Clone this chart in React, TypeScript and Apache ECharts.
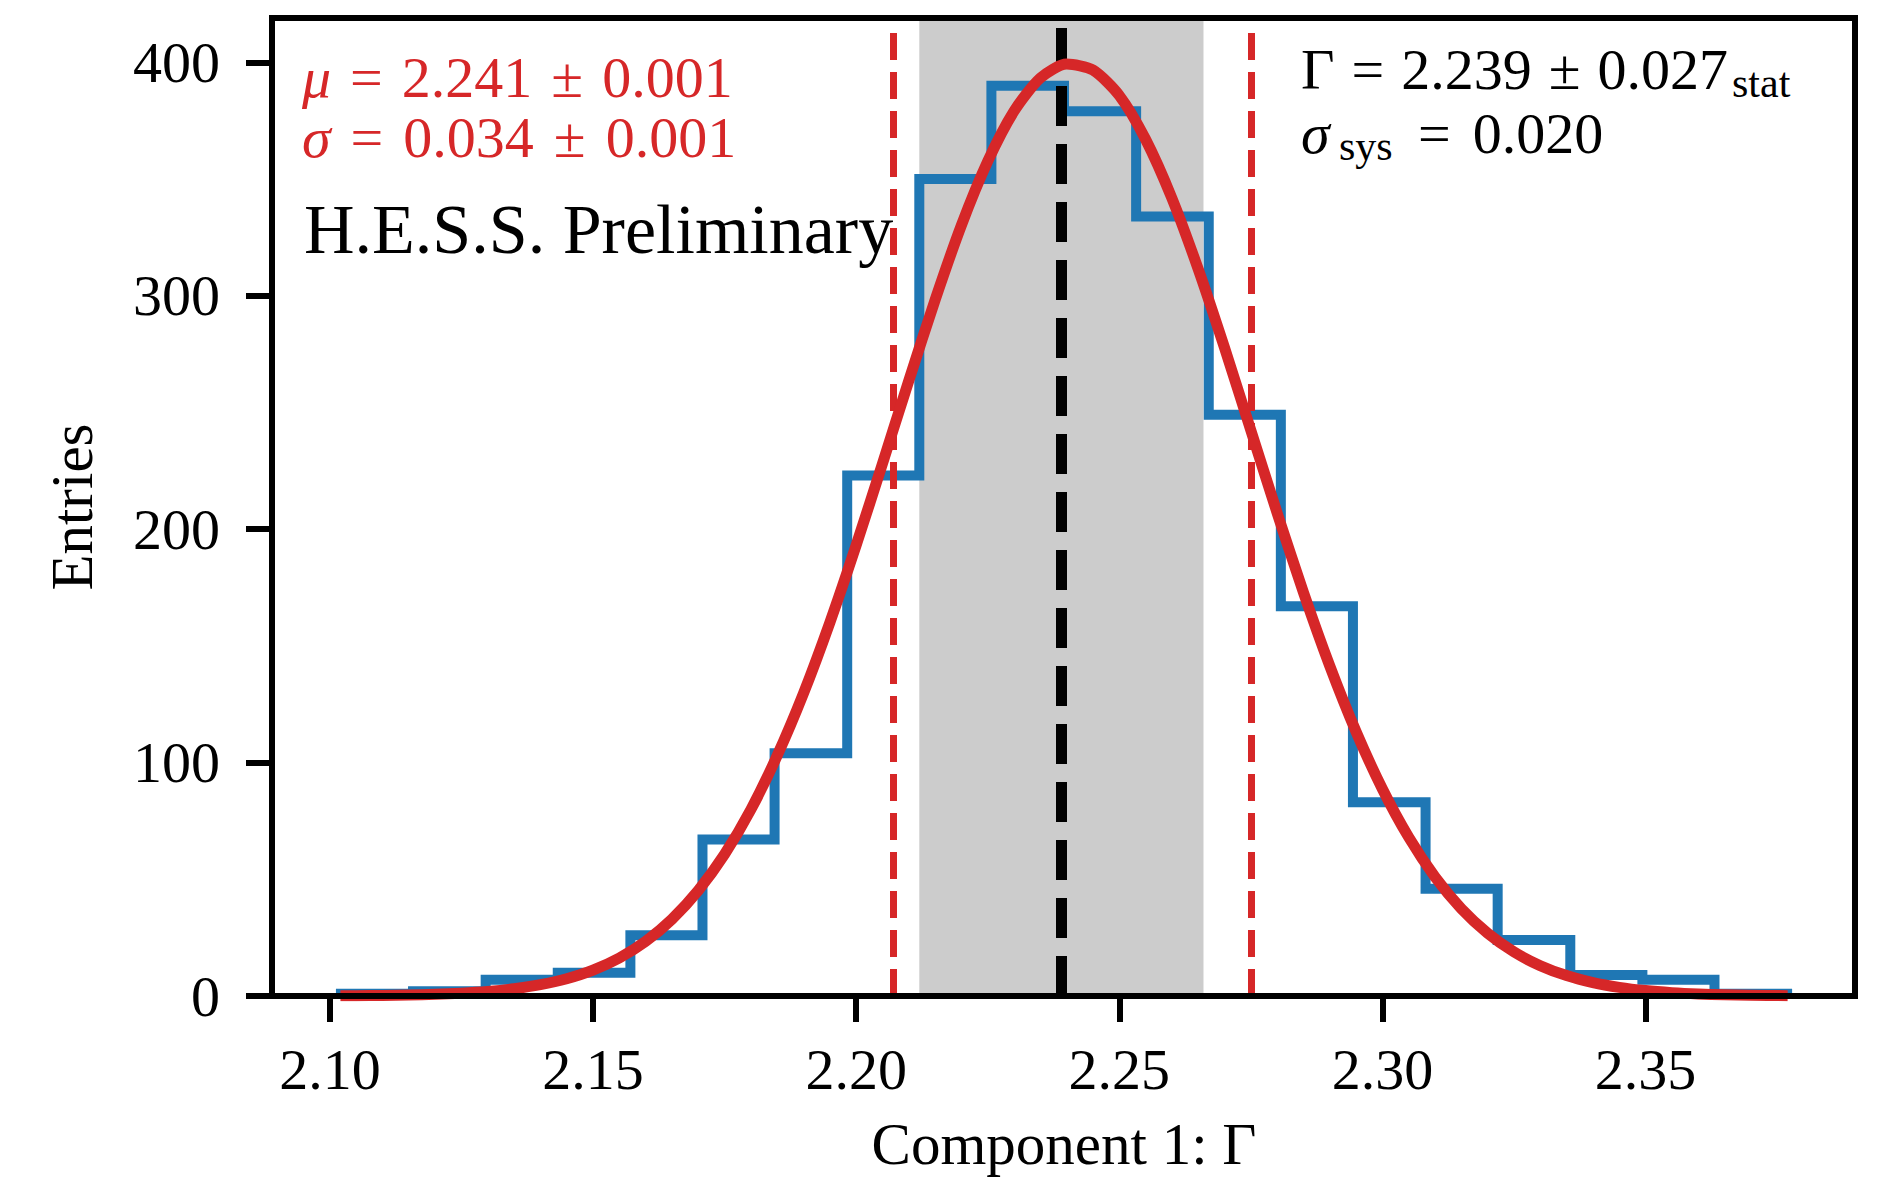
import React, { useEffect, useRef } from "react";
import * as echarts from "echarts";

// ---- data ----
const binEdges = [
  2.1021, 2.1158, 2.1296, 2.1433, 2.1571, 2.1708, 2.1845, 2.1983, 2.212, 2.2257, 2.2395,
  2.2532, 2.267, 2.2807, 2.2944, 2.3082, 2.3219, 2.3357, 2.3494, 2.3631, 2.3769,
];
const binCounts = [1, 2, 7, 10, 26, 67, 104, 223, 350, 390, 379, 334, 249, 167, 83, 46, 24, 9, 7, 1];

const fitX = [
  2.102, 2.105, 2.11, 2.115, 2.12, 2.125, 2.13, 2.135, 2.14, 2.145, 2.15, 2.155, 2.16, 2.165,
  2.17, 2.175, 2.18, 2.185, 2.19, 2.195, 2.2, 2.205, 2.21, 2.215, 2.22, 2.225, 2.23, 2.235,
  2.24, 2.245, 2.25, 2.255, 2.26, 2.265, 2.27, 2.275, 2.28, 2.285, 2.29, 2.295, 2.3, 2.305,
  2.31, 2.315, 2.32, 2.325, 2.33, 2.335, 2.34, 2.345, 2.35, 2.355, 2.36, 2.365, 2.37, 2.377,
];
const fitY = [
  0.09, 0.13, 0.24, 0.42, 0.71, 1.19, 1.94, 3.1, 4.85, 7.42, 11.1, 16.3, 23.4, 32.9,
  45.2, 60.7, 79.9, 103.0, 129.7, 160.0, 193.1, 228.1, 263.6, 298.2, 330.2, 357.6, 379.1, 393.3,
  399.3, 396.7, 385.8, 367.0, 341.8, 311.4, 277.7, 242.3, 206.9, 172.9, 141.4, 113.2, 88.7, 68.0,
  51.0, 37.4, 26.9, 18.9, 13.0, 8.75, 5.76, 3.72, 2.34, 1.45, 0.87, 0.52, 0.3, 0.13,
];

const xTicks = [2.1, 2.15, 2.2, 2.25, 2.3, 2.35];
const yTicks = [0, 100, 200, 300, 400];

const FIT_MU = 2.241;
const FIT_SIGMA = 0.034;
const GAMMA = 2.239;
const GAMMA_STAT = 0.027;

const X_MIN = 2.089;
const X_MAX = 2.3898;
const Y_MIN = 0;
const Y_MAX = 419;

const FONT = '"Liberation Serif", "Times New Roman", "DejaVu Serif", serif';
const RED = "#d62728";
const BLUE = "#1f77b4";

function textEl(x: number, y: number, text: string, opts: any = {}) {
  const fs = opts.fontSize || 58;
  const fill = opts.fill || "#000";
  const style: any = {
    text,
    fill,
    fontSize: fs,
    fontFamily: FONT,
    fontStyle: opts.fontStyle || "normal",
    align: opts.align || "left",
    textAlign: opts.align || "left",
    verticalAlign: "middle",
    textVerticalAlign: "middle",
  };
  if (opts.rich) {
    const rich: any = {};
    Object.keys(opts.rich).forEach((k) => {
      rich[k] = { fill, color: fill, fontSize: fs, fontFamily: FONT, ...opts.rich[k] };
    });
    style.rich = rich;
  }
  const el: any = { type: "text", x, y, silent: true, z: 50, style };
  if (opts.rotation) el.rotation = opts.rotation;
  return el;
}

export default function App() {
  const ref = useRef<HTMLDivElement>(null);

  useEffect(() => {
    const chart = echarts.init(ref.current as HTMLDivElement, null, { renderer: "svg" });

    const histData: number[][] = [[binEdges[0], 0]];
    binCounts.forEach((c, i) => histData.push([binEdges[i], c]));
    histData.push([binEdges[binEdges.length - 1], binCounts[binCounts.length - 1]]);
    histData.push([binEdges[binEdges.length - 1], 0]);

    const fitData = fitX.map((x, i) => [x, fitY[i]]);

    const spine = { show: true, onZero: false, lineStyle: { color: "#000", width: 6, cap: "square" } };
    const labelStyle = { fontSize: 58, fontFamily: FONT, color: "#000" };
    const spMu = { s: { width: 19 }, i: { fontStyle: "italic" } };
    const spSig = { s: { width: 20 }, i: { fontStyle: "italic" } };
    const spG = { s: { width: 17 } };

    const option: any = {
      animation: false,
      backgroundColor: "#fff",
      grid: { left: 272, right: 25, top: 18, bottom: 182, containLabel: false },
      xAxis: [
        {
          type: "value",
          min: X_MIN,
          max: X_MAX,
          position: "bottom",
          z: 20,
          axisLine: spine,
          axisTick: { show: true, inside: false, length: 26, lineStyle: { color: "#000", width: 6 }, customValues: xTicks },
          axisLabel: {
            show: true,
            customValues: xTicks,
            margin: 44,
            ...labelStyle,
            formatter: (v: number) => v.toFixed(2),
          },
          splitLine: { show: false },
        },
        {
          type: "value",
          min: X_MIN,
          max: X_MAX,
          position: "top",
          z: 20,
          axisLine: spine,
          axisTick: { show: false },
          axisLabel: { show: false },
          splitLine: { show: false },
        },
      ],
      yAxis: [
        {
          type: "value",
          min: Y_MIN,
          max: Y_MAX,
          position: "left",
          z: 20,
          axisLine: spine,
          axisTick: { show: true, inside: false, length: 26, lineStyle: { color: "#000", width: 6 }, customValues: yTicks },
          axisLabel: {
            show: true,
            customValues: yTicks,
            margin: 52,
            ...labelStyle,
            formatter: (v: number) => String(Math.round(v)),
          },
          splitLine: { show: false },
        },
        {
          type: "value",
          min: Y_MIN,
          max: Y_MAX,
          position: "right",
          z: 20,
          axisLine: spine,
          axisTick: { show: false },
          axisLabel: { show: false },
          splitLine: { show: false },
        },
      ],
      series: [
        {
          name: "histogram",
          type: "line",
          xAxisIndex: 0,
          yAxisIndex: 0,
          step: "end",
          data: histData,
          symbol: "none",
          showSymbol: false,
          silent: true,
          z: 2,
          lineStyle: { color: BLUE, width: 10, join: "miter", cap: "butt" },
          markArea: {
            silent: true,
            z: 1,
            precision: 6,
            itemStyle: { color: "#cccccc", borderWidth: 0 },
            label: { show: false },
            data: [[{ xAxis: GAMMA - GAMMA_STAT }, { xAxis: GAMMA + GAMMA_STAT }]],
          },
          markLine: {
            silent: true,
            z: 5,
            precision: 6,
            symbol: ["none", "none"],
            label: { show: false },
            emphasis: { disabled: true },
            data: [
              { xAxis: FIT_MU - FIT_SIGMA, lineStyle: { color: RED, width: 7, type: [27, 12] } },
              { xAxis: FIT_MU + FIT_SIGMA, lineStyle: { color: RED, width: 7, type: [27, 12] } },
              { xAxis: GAMMA, lineStyle: { color: "#000", width: 11, type: [40, 18] } },
            ],
          },
        },
        {
          name: "fit",
          type: "line",
          xAxisIndex: 0,
          yAxisIndex: 0,
          data: fitData,
          smooth: 0.25,
          symbol: "none",
          showSymbol: false,
          silent: true,
          z: 6,
          lineStyle: { color: RED, width: 11, cap: "butt", join: "round" },
        },
      ],
      graphic: [
        textEl(302, 77, "{i|μ}{s| }={s| }2.241{s| }±{s| }0.001", { fill: RED, rich: spMu }),
        textEl(302, 137, "{i|σ}{s| }={s| }0.034{s| }±{s| }0.001", { fill: RED, rich: spSig }),
        textEl(304, 229, "H.E.S.S. Preliminary", { fontSize: 70 }),
        textEl(1301, 69, "Γ{s| }={s| }2.239{s| }±{s| }0.027", { rich: spG }),
        textEl(1732, 83, "stat", { fontSize: 42 }),
        textEl(1301, 133, "σ", { fontStyle: "italic" }),
        textEl(1339, 146, "sys", { fontSize: 42 }),
        textEl(1418, 133, "={s| }0.020", { rich: { s: { width: 22 } } }),
        textEl(72, 507, "Entries", { fontSize: 59, align: "center", rotation: Math.PI / 2 }),
        textEl(1064, 1144, "Component 1: Γ", { fontSize: 59, align: "center" }),
      ],
    };

    chart.setOption(option);
    return () => chart.dispose();
  }, []);

  return (
    <div
      ref={ref}
      style={{ position: "fixed", left: 0, top: 0, width: 1880, height: 1178, background: "#fff" }}
    />
  );
}
